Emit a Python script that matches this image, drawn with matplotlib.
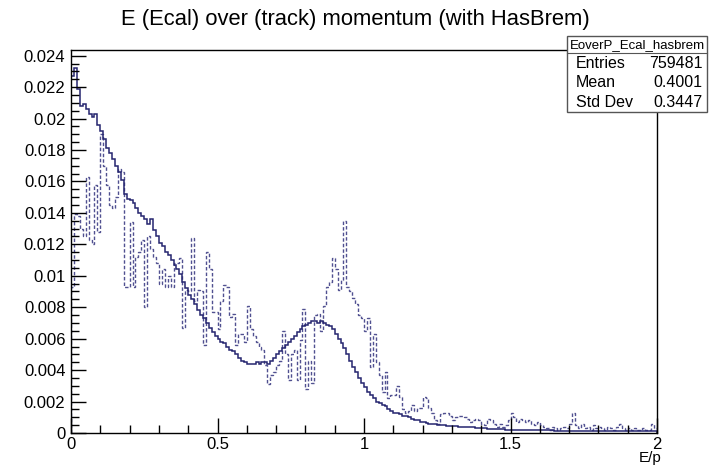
import numpy as np
import matplotlib
matplotlib.use("Agg")
import matplotlib.pyplot as plt
from matplotlib.ticker import MultipleLocator, FuncFormatter
from matplotlib.patches import Rectangle
from matplotlib.lines import Line2D

# ---------------- data ----------------
title = "E (Ecal) over (track) momentum (with HasBrem)"
x_label = "E/p"
x_range = (0.0, 2.0)
hist_name = "EoverP_Ecal_hasbrem"
stat_names = ["Entries", "Mean", "Std Dev"]
stat_values = ["759481", "0.4001", "0.3447"]

# solid histogram (bin width 0.01 from 0 to 2)
solid = [
    0.0227, 0.0232, 0.0219, 0.0208, 0.0209, 0.0206, 0.0203, 0.0201, 0.0203, 0.0196,
    0.0192, 0.0187, 0.0181, 0.0178, 0.0174, 0.0170, 0.0166, 0.0161, 0.0152, 0.0149,
    0.0148, 0.0146, 0.0143, 0.0140, 0.0138, 0.0136, 0.0133, 0.0136, 0.0129, 0.0125,
    0.0121, 0.0119, 0.0115, 0.0113, 0.0110, 0.0107, 0.0104, 0.0101, 0.0096, 0.0092,
    0.0088, 0.0085, 0.0082, 0.0078, 0.0075, 0.0073, 0.0070, 0.0067, 0.0064, 0.0062,
    0.0060, 0.0058, 0.0057, 0.0055, 0.0053, 0.0052, 0.0050, 0.0048, 0.0046, 0.0045,
    0.0044, 0.0044, 0.0044, 0.0045, 0.0044, 0.0045, 0.0045, 0.0044, 0.0046, 0.0048,
    0.0050, 0.0052, 0.0054, 0.0056, 0.0058, 0.0060, 0.0062, 0.0064, 0.0066, 0.0068,
    0.0069, 0.0070, 0.0071, 0.0071, 0.0070, 0.0071, 0.0070, 0.0069, 0.0068, 0.0066,
    0.0063, 0.0060, 0.0057, 0.0054, 0.0050, 0.0046, 0.0042, 0.0039, 0.0035, 0.0032,
    0.0029, 0.0026, 0.0024, 0.0022, 0.0020, 0.0019, 0.0018, 0.0017, 0.0015, 0.0014,
    0.0013, 0.0013, 0.0012, 0.0011, 0.0011, 0.0010, 0.0009, 0.0008, 0.0008, 0.0007,
    0.0007, 0.00065, 0.0006, 0.0006, 0.00055, 0.0005, 0.0005, 0.0005, 0.00045, 0.00045,
    0.00043, 0.00042, 0.00040, 0.00039, 0.00038, 0.00037, 0.00036, 0.00035, 0.00033, 0.00031,
    0.00030, 0.00029, 0.00028, 0.00027, 0.00026, 0.00025, 0.00024, 0.00023, 0.00022, 0.00021,
    0.00020, 0.00020, 0.00019, 0.00019, 0.00018, 0.00018, 0.00018, 0.00017, 0.00017, 0.00017,
    0.00017, 0.00016, 0.00016, 0.00016, 0.00016, 0.00015, 0.00015, 0.00015, 0.00015, 0.00015,
    0.00015, 0.00014, 0.00014, 0.00014, 0.00014, 0.00014, 0.00013, 0.00013, 0.00013, 0.00013,
    0.00013, 0.00013, 0.00012, 0.00012, 0.00012, 0.00012, 0.00012, 0.00012, 0.00011, 0.00011,
    0.00011, 0.00011, 0.00011, 0.00011, 0.00010, 0.00010, 0.00010, 0.00010, 0.00010, 0.00010,
]

# dashed histogram
dashed = [
    0.0093, 0.0139, 0.0138, 0.0130, 0.0125, 0.0163, 0.0123, 0.0120, 0.0158, 0.0128,
    0.0190, 0.0170, 0.0158, 0.0145, 0.0143, 0.0150, 0.0168, 0.0166, 0.0093, 0.0093,
    0.0134, 0.0093, 0.0112, 0.0115, 0.0123, 0.0080, 0.0125, 0.0117, 0.0112, 0.0108,
    0.0095, 0.0104, 0.0093, 0.0100, 0.0093, 0.0108, 0.0108, 0.0111, 0.0067, 0.0091,
    0.0090, 0.0124, 0.0084, 0.0091, 0.0090, 0.0056, 0.0115, 0.0104, 0.0077, 0.0077,
    0.0066, 0.0084, 0.0094, 0.0093, 0.0074, 0.0076, 0.0056, 0.0063, 0.0063, 0.0058,
    0.0081, 0.0066, 0.0062, 0.0058, 0.0055, 0.0053, 0.0043, 0.0031, 0.0037, 0.0039,
    0.0043, 0.0046, 0.0065, 0.0050, 0.0034, 0.0050, 0.0053, 0.0034, 0.0059, 0.0079,
    0.0028, 0.0046, 0.0032, 0.0075, 0.0076, 0.0065, 0.0081, 0.0093, 0.0096, 0.0111,
    0.0104, 0.0091, 0.0097, 0.0135, 0.0093, 0.0090, 0.0086, 0.0082, 0.0075, 0.0073,
    0.0065, 0.0073, 0.0042, 0.0063, 0.0045, 0.0037, 0.0026, 0.0039, 0.0022, 0.0024,
    0.0024, 0.0030, 0.0023, 0.0015, 0.0013, 0.0014, 0.0018, 0.0014, 0.0016, 0.0016,
    0.0023, 0.0022, 0.0016, 0.0013, 0.0008, 0.0006, 0.0012, 0.0013, 0.0013, 0.0011,
    0.0008, 0.0010, 0.0011, 0.0011, 0.0010, 0.0009, 0.0007, 0.0008, 0.0009, 0.0008,
    0.0006, 0.0005, 0.0009, 0.0008, 0.0006, 0.0004, 0.0006, 0.0004, 0.0005, 0.0008,
    0.0013, 0.0010, 0.0007, 0.0009, 0.0008, 0.0007, 0.0008, 0.0006, 0.0005, 0.0007,
    0.0005, 0.0004, 0.0003, 0.0002, 0.0004, 0.0003, 0.0002, 0.0003, 0.0004, 0.0003,
    0.0006, 0.0013, 0.0005, 0.0003, 0.0006, 0.0003, 0.0004, 0.0002, 0.0005, 0.0003,
    0.0004, 0.0003, 0.0002, 0.0004, 0.0003, 0.0002, 0.0004, 0.0006, 0.0003, 0.0002,
    0.0003, 0.0002, 0.0003, 0.0002, 0.0002, 0.0003, 0.0002, 0.0002, 0.0006, 0.0003,
]

# ---------------- figure ----------------
FONT = ["Liberation Sans", "DejaVu Sans"]
plt.rcParams["font.family"] = FONT

W, H = 711, 466
fig = plt.figure(figsize=(W / 100, H / 100), dpi=100)
fig.patch.set_facecolor("white")

ax_l, ax_r, ax_t, ax_b = 71, 657, 50, 433
ax = fig.add_axes([ax_l / W, 1 - ax_b / H, (ax_r - ax_l) / W, (ax_b - ax_t) / H])

solid_c = "#25256f"
dash_c = "#505090"

edges_s = np.linspace(x_range[0], x_range[1], len(solid) + 1)
edges_d = np.linspace(x_range[0], x_range[1], len(dashed) + 1)
ax.stairs(dashed, edges_d, baseline=0, color=dash_c, lw=1.0, linestyle=(0, (2.5, 1.5)))
ax.stairs(solid, edges_s, baseline=0, color=solid_c, lw=1.1)

ymax = 1.05 * max(max(solid), max(dashed))
ax.set_xlim(*x_range)
ax.set_ylim(0, ymax)

for sp in ax.spines.values():
    sp.set_linewidth(1.0)
    sp.set_color("black")

ax.xaxis.set_major_locator(MultipleLocator(0.5))
ax.xaxis.set_minor_locator(MultipleLocator(0.1))
ax.yaxis.set_major_locator(MultipleLocator(0.002))
ax.yaxis.set_minor_locator(MultipleLocator(0.0005))

fmt = FuncFormatter(lambda v, p: f"{round(v, 6):g}")
ax.xaxis.set_major_formatter(fmt)
ax.yaxis.set_major_formatter(fmt)

ax.tick_params(axis="both", which="both", direction="in", top=False, right=False,
               labelsize=12, width=1.0, color="black")
ax.tick_params(axis="x", which="major", length=11, pad=3)
ax.tick_params(axis="x", which="minor", length=6)
ax.tick_params(axis="y", which="major", length=11, pad=4)
ax.tick_params(axis="y", which="minor", length=6)

# axis title (right aligned at the axis end, below the labels)
fig.text((ax_r + 4) / W, 1 - 451 / H, x_label, ha="right", va="top", fontsize=11)

# title
fig.text(0.5, 1 - 20 / H, title, ha="center", va="center", fontsize=15.8)

# stats box
bx0, bx1, by0, by1 = 567 / W, 707 / W, 1 - 112 / H, 1 - 36 / H
bh = by1 - by0
fig.patches.append(Rectangle((bx0, by0), bx1 - bx0, bh, transform=fig.transFigure,
                             facecolor="white", edgecolor="#555555", lw=1.0, zorder=5))
div_y = by1 - 0.23 * bh
fig.lines.append(Line2D([bx0, bx1], [div_y, div_y], transform=fig.transFigure,
                        color="#555555", lw=0.8, zorder=6))
fig.text((bx0 + bx1) / 2, (by1 + div_y) / 2, hist_name, ha="center", va="center",
         fontsize=9.5, zorder=7)
row_h = (div_y - by0) / len(stat_names)
for i, (n, v) in enumerate(zip(stat_names, stat_values)):
    yy = div_y - (i + 0.5) * row_h
    fig.text(bx0 + 0.012, yy, n, ha="left", va="center", fontsize=11.5, zorder=7)
    fig.text(bx1 - 0.006, yy, v, ha="right", va="center", fontsize=11.5, zorder=7)

fig.savefig("out.png", dpi=100, facecolor="white")
